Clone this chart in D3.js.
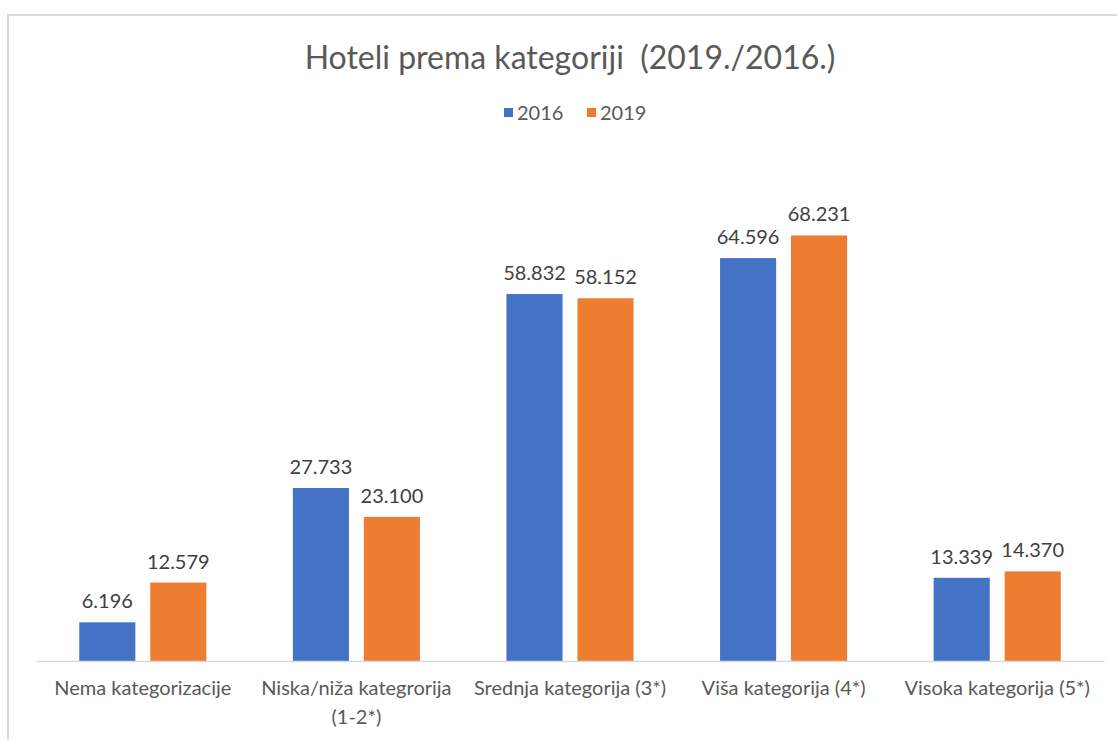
<!DOCTYPE html>
<html>
<head>
<meta charset="utf-8">
<script src="https://cdn.jsdelivr.net/npm/d3@7"></script>
<style>
  body { margin: 0; background: #fff; }
  text { font-family: Lato, "Open Sans", sans-serif; }
</style>
</head>
<body>
<div id="chart"></div>
<script>
// values
var categories = ["Nema kategorizacije", "Niska/niža kategrorija (1-2*)", "Srednja kategorija (3*)", "Viša kategorija (4*)", "Visoka kategorija (5*)"];
var categoryLines = [["Nema kategorizacije"], ["Niska/niža kategrorija", "(1-2*)"], ["Srednja kategorija (3*)"], ["Viša kategorija (4*)"], ["Visoka kategorija (5*)"]];
var seriesNames = ["2016", "2019"];
var values2016 = [6.196, 27.733, 58.832, 64.596, 13.339];
var values2019 = [12.579, 23.100, 58.152, 68.231, 14.370];
var seriesColors = ["#4472c4", "#ed7d31"];

var width = 1117, height = 740;
var margin = {top: 162, right: 13, bottom: 79, left: 36};

var svg = d3.select("#chart").append("svg")
    .attr("width", width)
    .attr("height", height);

// chart frame (runs off the right and bottom of the picture)
svg.append("rect")
    .attr("x", 8).attr("y", 15)
    .attr("width", 1130).attr("height", 760)
    .attr("fill", "#fff")
    .attr("stroke", "#d9d9d9")
    .attr("stroke-width", 2);

var fmt = function(v) { return d3.format(".3f")(v); };

var data = categories.map(function(c, i) {
    return {cat: c, lines: categoryLines[i], vals: [values2016[i], values2019[i]]};
});

var x0 = d3.scaleBand()
    .domain(categories)
    .range([margin.left, width - margin.right])
    .paddingInner(0.405)
    .paddingOuter(0.2025);

var x1 = d3.scaleBand()
    .domain(seriesNames)
    .range([0, x0.bandwidth()])
    .paddingInner(0.21);

var y = d3.scaleLinear()
    .domain([0, 80])
    .range([height - margin.bottom, margin.top]);

// title
svg.append("text")
    .attr("x", 570).attr("y", 69)
    .attr("text-anchor", "middle")
    .style("white-space", "pre")
    .attr("font-size", 32)
    .attr("fill", "#595959")
    .text("Hoteli prema kategoriji  (2019./2016.)");

// legend
var legend = svg.append("g").attr("class", "legend");
var legendX = [504, 587];
seriesNames.forEach(function(s, i) {
    legend.append("rect")
        .attr("x", legendX[i]).attr("y", 108)
        .attr("width", 9).attr("height", 9)
        .attr("fill", seriesColors[i]);
    legend.append("text")
        .attr("x", legendX[i] + 13).attr("y", 120)
        .attr("font-size", 20)
        .attr("fill", "#595959")
        .text(s);
});

// bars
var groups = svg.selectAll("g.cat")
    .data(data)
    .enter().append("g")
    .attr("class", "cat")
    .attr("transform", function(d) { return "translate(" + x0(d.cat) + ",0)"; });

groups.selectAll("rect")
    .data(function(d) { return d.vals.map(function(v, i) { return {s: seriesNames[i], v: v, i: i}; }); })
    .enter().append("rect")
    .attr("x", function(d) { return x1(d.s); })
    .attr("y", function(d) { return y(d.v); })
    .attr("width", x1.bandwidth())
    .attr("height", function(d) { return y(0) - y(d.v); })
    .attr("fill", function(d) { return seriesColors[d.i]; });

groups.selectAll("text.val")
    .data(function(d) { return d.vals.map(function(v, i) { return {s: seriesNames[i], v: v}; }); })
    .enter().append("text")
    .attr("class", "val")
    .attr("x", function(d) { return x1(d.s) + x1.bandwidth() / 2; })
    .attr("y", function(d) { return y(d.v) - 14; })
    .attr("text-anchor", "middle")
    .attr("font-size", 20)
    .attr("fill", "#404040")
    .text(function(d) { return fmt(d.v); });

// x axis
var xAxis = svg.append("g")
    .attr("transform", "translate(0," + y(0) + ")")
    .call(d3.axisBottom(x0).tickSize(0).tickFormat(""));
xAxis.select(".domain").attr("stroke", "#d9d9d9").attr("stroke-width", 1.5);

xAxis.selectAll(".tick").each(function(c, i) {
    var t = d3.select(this).append("text")
        .attr("text-anchor", "middle")
        .attr("font-size", 20)
        .attr("fill", "#595959");
    categoryLines[i].forEach(function(line, j) {
        t.append("tspan")
            .attr("x", 0)
            .attr("y", 34 + j * 29)
            .text(line);
    });
});
</script>
</body>
</html>
